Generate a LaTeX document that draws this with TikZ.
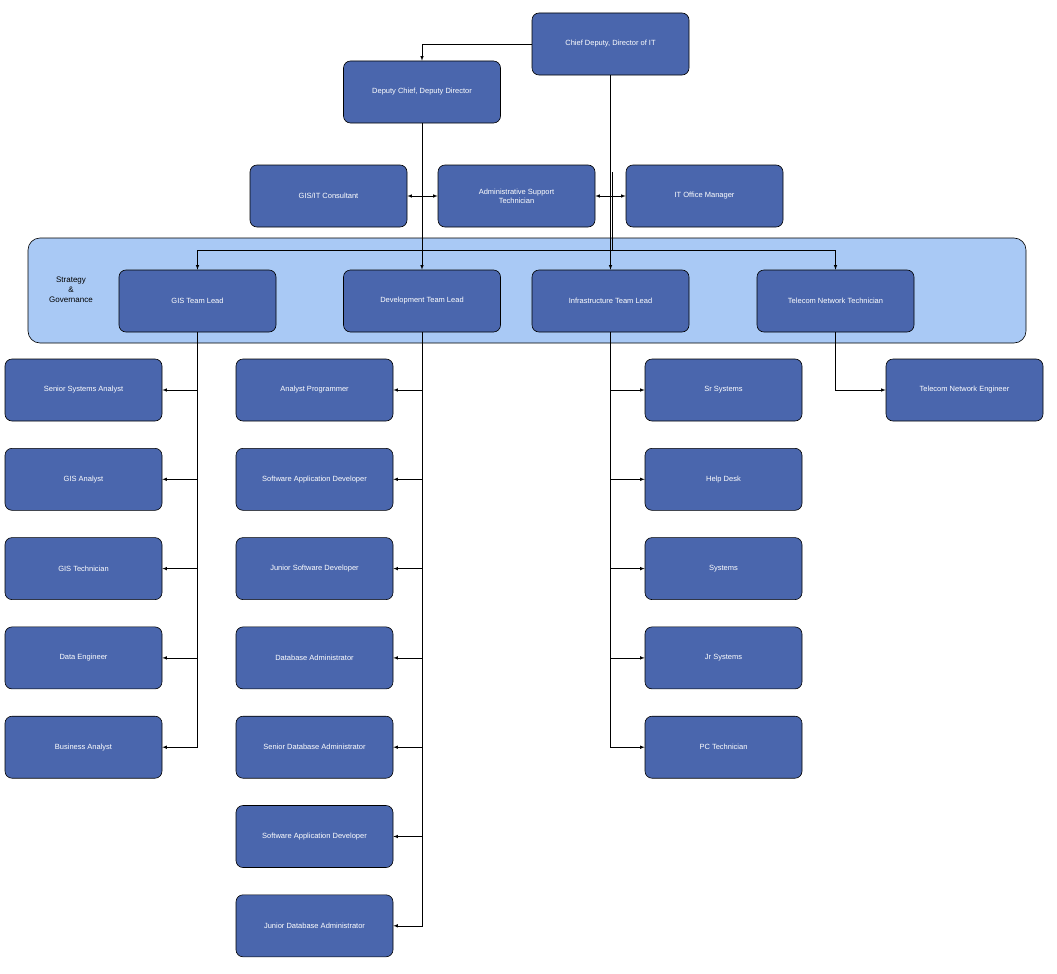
\documentclass[tikz,border=0pt]{standalone}
\usepackage{fontspec}
\setmainfont{Liberation Sans}
\begin{document}
\definecolor{boxc}{HTML}{4A66AD}
\definecolor{bandc}{HTML}{A9C9F5}
\begin{tikzpicture}[x=1pt,y=-1pt,
  box/.style={draw=black,fill=boxc,rounded corners=7pt,minimum width=157pt,minimum height=62pt,text=white,font=\fontsize{7.5}{9}\selectfont,align=center,inner sep=2pt,line width=0.6pt},
  ar/.style={-latex,line width=0.6pt},
  ln/.style={line width=0.6pt}]
\useasboundingbox (0,0) rectangle (1057,974);
\node[draw=black,fill=bandc,rounded corners=12pt,minimum width=998pt,minimum height=105pt,line width=0.6pt] (band) at (527,290.5) {};
\node[font=\fontsize{8}{10}\selectfont,align=center] (sg) at (71,290) {Strategy\\\&\\Governance};
\node[box] (chief) at (610.5,44) {Chief Deputy, Director of IT};
\node[box] (dep) at (422,92) {Deputy Chief, Deputy Director};
\node[box] (cons) at (328.5,196) {GIS/IT Consultant};
\node[box] (adm) at (516.5,196) {Administrative Support\\Technician};
\node[box] (off) at (704.5,196) {IT Office Manager};
\node[box] (gisl) at (197.5,301) {GIS Team Lead};
\node[box] (devl) at (422,301) {Development Team Lead};
\node[box] (infl) at (610.5,301) {Infrastructure Team Lead};
\node[box] (tell) at (835.5,301) {Telecom Network Technician};
\node[box] (teng) at (964.5,390) {Telecom Network Engineer};
% GIS column
\foreach \n/\t [count=\i from 0] in {g1/Senior Systems Analyst,g2/GIS Analyst,g3/GIS Technician,g4/Data Engineer,g5/Business Analyst}
  \node[box] (\n) at (83.5,390+89.3*\i) {\t};
\foreach \n/\t [count=\i from 0] in {d1/Analyst Programmer,d2/Software Application Developer,d3/Junior Software Developer,d4/Database Administrator,d5/Senior Database Administrator,d6/Software Application Developer,d7/Junior Database Administrator}
  \node[box] (\n) at (314.5,390+89.3*\i) {\t};
\foreach \n/\t [count=\i from 0] in {i1/Sr Systems/Network Admin,i2/Help Desk/Telecom Admin,i3/Systems/Network Admin,i4/Jr Systems/Network Admin,i5/PC Technician}
  \node[box] (\n) at (723.5,390+89.3*\i) {\t};
% top connectors
\draw[ar] (chief.west) -| (dep.north);
\draw[ar] (dep.south) -- (devl.north);
\draw[ar] (chief.south) -- (infl.north);
\coordinate (tj) at (612,172);
\coordinate (hj) at (612,250);
\draw[ln,line width=1pt] (tj) -- (hj);
\draw[ar] (hj) -| (gisl.north);
\draw[ar] (hj) -| (tell.north);
\draw[latex-latex,line width=0.6pt] (cons.east) -- (adm.west);
\draw[latex-latex,line width=0.6pt] (adm.east) -- (off.west);
% children
\foreach \n in {g1,g2,g3,g4,g5} \draw[ar] (gisl.south) |- (\n.east);
\foreach \n in {d1,d2,d3,d4,d5,d6,d7} \draw[ar] (devl.south) |- (\n.east);
\foreach \n in {i1,i2,i3,i4,i5} \draw[ar] (infl.south) |- (\n.west);
\draw[ar] (tell.south) |- (teng.west);
\end{tikzpicture}
\end{document}
